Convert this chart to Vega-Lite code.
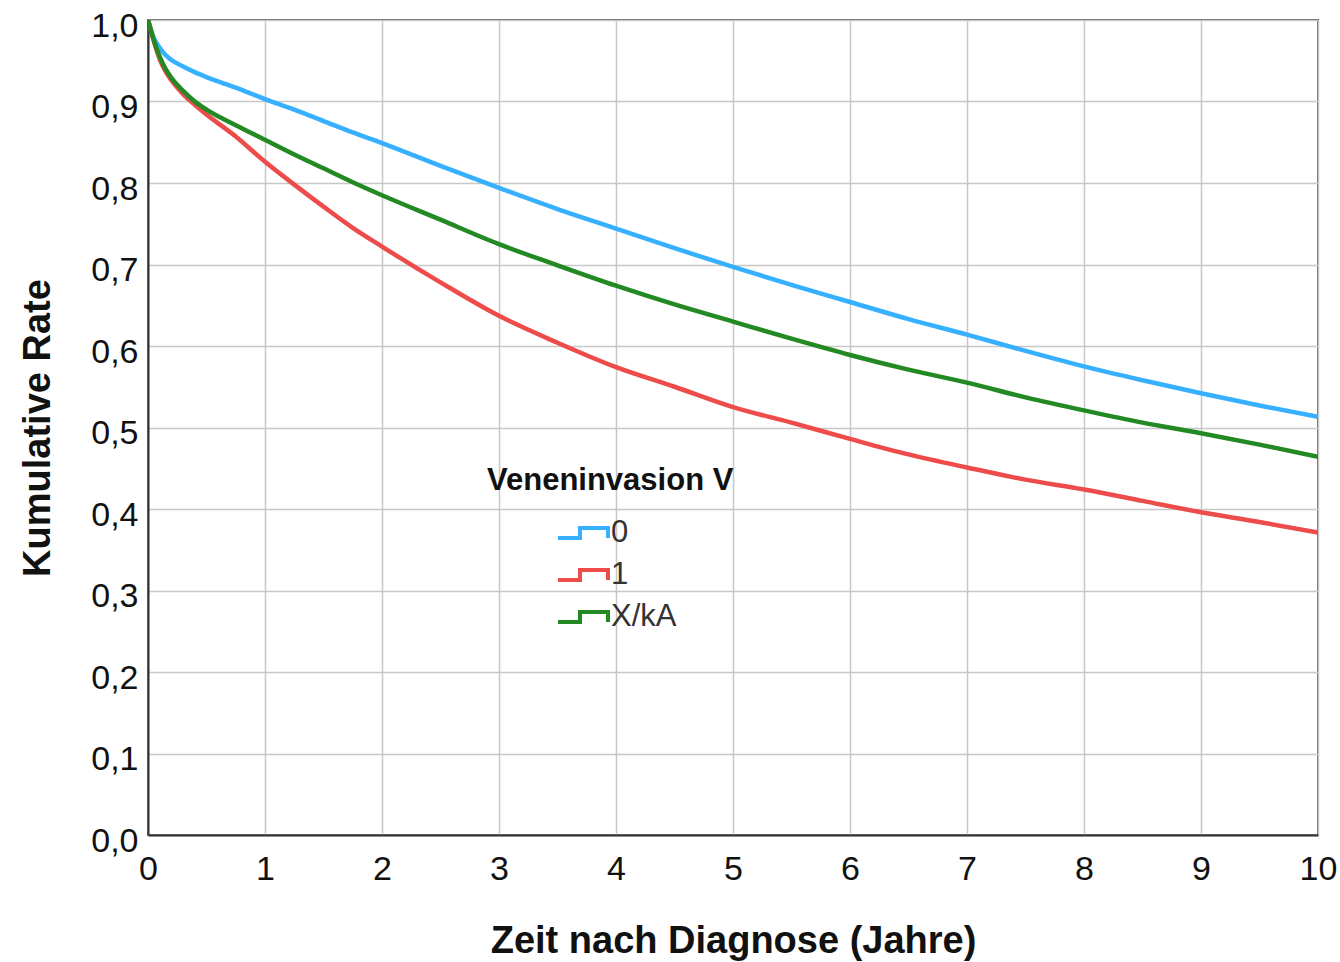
{
  "$schema": "https://vega.github.io/schema/vega-lite/v6.json",
  "width": 1170,
  "height": 815,
  "autosize": {"type": "none"},
  "padding": {"left": 148, "top": 20, "right": 22, "bottom": 127},
  "background": "white",
  "config": {
    "font": "Liberation Sans",
    "view": {"stroke": "#666666", "strokeWidth": 2}
  },
  "data": {
    "values": [
      {"t": 0, "rate": 1.0, "group": "0"},
      {"t": 0.02, "rate": 0.99, "group": "0"},
      {"t": 0.05, "rate": 0.978, "group": "0"},
      {"t": 0.1, "rate": 0.966, "group": "0"},
      {"t": 0.15, "rate": 0.957, "group": "0"},
      {"t": 0.2, "rate": 0.951, "group": "0"},
      {"t": 0.3, "rate": 0.943, "group": "0"},
      {"t": 0.4, "rate": 0.936, "group": "0"},
      {"t": 0.5, "rate": 0.93, "group": "0"},
      {"t": 0.75, "rate": 0.917, "group": "0"},
      {"t": 1, "rate": 0.903, "group": "0"},
      {"t": 1.25, "rate": 0.89, "group": "0"},
      {"t": 1.5, "rate": 0.876, "group": "0"},
      {"t": 1.75, "rate": 0.862, "group": "0"},
      {"t": 2, "rate": 0.849, "group": "0"},
      {"t": 2.5, "rate": 0.821, "group": "0"},
      {"t": 3, "rate": 0.794, "group": "0"},
      {"t": 3.5, "rate": 0.768, "group": "0"},
      {"t": 4, "rate": 0.744, "group": "0"},
      {"t": 4.5, "rate": 0.72, "group": "0"},
      {"t": 5, "rate": 0.697, "group": "0"},
      {"t": 5.5, "rate": 0.675, "group": "0"},
      {"t": 6, "rate": 0.654, "group": "0"},
      {"t": 6.5, "rate": 0.633, "group": "0"},
      {"t": 7, "rate": 0.614, "group": "0"},
      {"t": 7.5, "rate": 0.594, "group": "0"},
      {"t": 8, "rate": 0.575, "group": "0"},
      {"t": 8.5, "rate": 0.558, "group": "0"},
      {"t": 9, "rate": 0.542, "group": "0"},
      {"t": 9.5, "rate": 0.527, "group": "0"},
      {"t": 10, "rate": 0.513, "group": "0"},
      {"t": 0, "rate": 1.0, "group": "1"},
      {"t": 0.02, "rate": 0.99, "group": "1"},
      {"t": 0.05, "rate": 0.974, "group": "1"},
      {"t": 0.1, "rate": 0.952, "group": "1"},
      {"t": 0.15, "rate": 0.937, "group": "1"},
      {"t": 0.2, "rate": 0.926, "group": "1"},
      {"t": 0.3, "rate": 0.909, "group": "1"},
      {"t": 0.4, "rate": 0.896, "group": "1"},
      {"t": 0.5, "rate": 0.884, "group": "1"},
      {"t": 0.75, "rate": 0.857, "group": "1"},
      {"t": 1, "rate": 0.826, "group": "1"},
      {"t": 1.25, "rate": 0.798, "group": "1"},
      {"t": 1.5, "rate": 0.771, "group": "1"},
      {"t": 1.75, "rate": 0.745, "group": "1"},
      {"t": 2, "rate": 0.722, "group": "1"},
      {"t": 2.5, "rate": 0.678, "group": "1"},
      {"t": 3, "rate": 0.637, "group": "1"},
      {"t": 3.5, "rate": 0.604, "group": "1"},
      {"t": 4, "rate": 0.574, "group": "1"},
      {"t": 4.5, "rate": 0.55, "group": "1"},
      {"t": 5, "rate": 0.525, "group": "1"},
      {"t": 5.5, "rate": 0.506, "group": "1"},
      {"t": 6, "rate": 0.486, "group": "1"},
      {"t": 6.5, "rate": 0.467, "group": "1"},
      {"t": 7, "rate": 0.451, "group": "1"},
      {"t": 7.5, "rate": 0.436, "group": "1"},
      {"t": 8, "rate": 0.424, "group": "1"},
      {"t": 8.5, "rate": 0.41, "group": "1"},
      {"t": 9, "rate": 0.396, "group": "1"},
      {"t": 9.5, "rate": 0.384, "group": "1"},
      {"t": 10, "rate": 0.371, "group": "1"},
      {"t": 0, "rate": 1.0, "group": "X/kA"},
      {"t": 0.02, "rate": 0.99, "group": "X/kA"},
      {"t": 0.05, "rate": 0.975, "group": "X/kA"},
      {"t": 0.1, "rate": 0.955, "group": "X/kA"},
      {"t": 0.15, "rate": 0.94, "group": "X/kA"},
      {"t": 0.2, "rate": 0.929, "group": "X/kA"},
      {"t": 0.3, "rate": 0.913, "group": "X/kA"},
      {"t": 0.4, "rate": 0.9, "group": "X/kA"},
      {"t": 0.5, "rate": 0.89, "group": "X/kA"},
      {"t": 0.75, "rate": 0.871, "group": "X/kA"},
      {"t": 1, "rate": 0.853, "group": "X/kA"},
      {"t": 1.25, "rate": 0.835, "group": "X/kA"},
      {"t": 1.5, "rate": 0.818, "group": "X/kA"},
      {"t": 1.75, "rate": 0.801, "group": "X/kA"},
      {"t": 2, "rate": 0.785, "group": "X/kA"},
      {"t": 2.5, "rate": 0.755, "group": "X/kA"},
      {"t": 3, "rate": 0.725, "group": "X/kA"},
      {"t": 3.5, "rate": 0.699, "group": "X/kA"},
      {"t": 4, "rate": 0.674, "group": "X/kA"},
      {"t": 4.5, "rate": 0.651, "group": "X/kA"},
      {"t": 5, "rate": 0.63, "group": "X/kA"},
      {"t": 5.5, "rate": 0.609, "group": "X/kA"},
      {"t": 6, "rate": 0.589, "group": "X/kA"},
      {"t": 6.5, "rate": 0.571, "group": "X/kA"},
      {"t": 7, "rate": 0.555, "group": "X/kA"},
      {"t": 7.5, "rate": 0.537, "group": "X/kA"},
      {"t": 8, "rate": 0.521, "group": "X/kA"},
      {"t": 8.5, "rate": 0.506, "group": "X/kA"},
      {"t": 9, "rate": 0.493, "group": "X/kA"},
      {"t": 9.5, "rate": 0.479, "group": "X/kA"},
      {"t": 10, "rate": 0.464, "group": "X/kA"}
    ]
  },
  "mark": {"type": "line", "strokeWidth": 4.5, "clip": true, "interpolate": "monotone"},
  "encoding": {
    "x": {
      "field": "t",
      "type": "quantitative",
      "scale": {"domain": [0, 10], "nice": false, "zero": false},
      "axis": {
        "title": "Zeit nach Diagnose (Jahre)",
        "values": [0, 1, 2, 3, 4, 5, 6, 7, 8, 9, 10],
        "grid": true,
        "gridColor": "#c8c8c8",
        "gridWidth": 1.5,
        "ticks": false,
        "domain": true,
        "domainColor": "#333333",
        "domainWidth": 2,
        "labelFontSize": 34,
        "labelColor": "#111111",
        "labelPadding": 17,
        "labelFlush": false,
        "labelOverlap": false,
        "titleFontSize": 38,
        "titleFontWeight": "bold",
        "titleColor": "#111111",
        "titlePadding": 36
      }
    },
    "y": {
      "field": "rate",
      "type": "quantitative",
      "scale": {"domain": [0, 1], "nice": false},
      "axis": {
        "title": "Kumulative Rate",
        "values": [0, 0.1, 0.2, 0.3, 0.4, 0.5, 0.6, 0.7, 0.8, 0.9, 1.0],
        "labelExpr": "replace(format(datum.value, '.1f'), '.', ',')",
        "grid": true,
        "gridColor": "#c8c8c8",
        "gridWidth": 1.5,
        "ticks": false,
        "domain": true,
        "domainColor": "#333333",
        "domainWidth": 2,
        "labelFontSize": 34,
        "labelColor": "#111111",
        "labelPadding": 10,
        "labelOffset": 6,
        "labelFlush": false,
        "labelOverlap": false,
        "titleFontSize": 38,
        "titleFontWeight": "bold",
        "titleColor": "#111111",
        "titlePadding": 33
      }
    },
    "color": {
      "field": "group",
      "type": "nominal",
      "scale": {"domain": ["0", "1", "X/kA"], "range": ["#36b0ff", "#ee4b4b", "#238a23"]},
      "legend": {
        "title": "Veneninvasion V",
        "orient": "none",
        "legendX": 339,
        "legendY": 446,
        "padding": 0,
        "titleFontSize": 31,
        "titleFontWeight": "bold",
        "titleColor": "#111111",
        "titleLimit": 600,
        "titlePadding": 9,
        "labelFontSize": 31,
        "labelColor": "#333333",
        "labelOffset": 1,
        "symbolType": "M-1,0.2H-0.12V-0.2H1V0.2",
        "symbolSize": 2500,
        "symbolStrokeWidth": 4,
        "symbolFillColor": "transparent",
        "symbolOffset": 69,
        "rowPadding": -1
      }
    }
  }
}
